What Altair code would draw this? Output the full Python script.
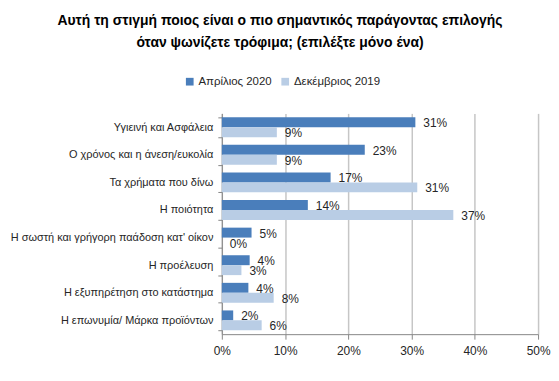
import altair as alt
import pandas as pd

categories = [
    "Υγιεινή και Ασφάλεια",
    "Ο χρόνος και η άνεση/ευκολία",
    "Τα χρήματα που δίνω",
    "Η ποιότητα",
    "Η σωστή και γρήγορη παάδοση κατ' οίκον",
    "Η προέλευση",
    "Η εξυπηρέτηση στο κατάστημα",
    "Η επωνυμία/ Μάρκα προϊόντων",
]
april_2020 = [30.6, 22.6, 17.2, 13.6, 4.7, 4.4, 4.2, 1.8]
dec_2019 = [8.7, 8.7, 30.9, 36.6, 0.0, 3.1, 8.2, 6.3]
series = ["Απρίλιος 2020", "Δεκέμβριος 2019"]
colors = ["#4a7ebb", "#b9cde5"]
x_ticks = [0, 5, 10, 15, 20, 25, 30, 35, 40, 45, 50]

rows = []
for c, a, d in zip(categories, april_2020, dec_2019):
    rows.append({"cat": c, "series": series[0], "val": a / 100, "label": f"{round(a):.0f}%"})
    rows.append({"cat": c, "series": series[1], "val": d / 100, "label": f"{round(d):.0f}%"})
df = pd.DataFrame(rows)

FONT = "Liberation Sans"

y_enc = alt.Y("cat:N", sort=categories, title=None,
              scale=alt.Scale(paddingInner=0.28, paddingOuter=0.14),
              axis=alt.Axis(labelFontSize=11, labelColor="#262626", labelPadding=5,
                            domainColor="#868686", tickColor="#868686", tickSize=4,
                            tickBand="extent", grid=False, labelLimit=400))
yoff = alt.YOffset("series:N", sort=series, scale=alt.Scale(paddingInner=0, paddingOuter=0))
x_enc = alt.X("val:Q", title=None,
              scale=alt.Scale(domain=[0, 0.5], nice=False),
              axis=alt.Axis(values=[v / 100 for v in x_ticks], format=".0%",
                            labelFontSize=12, labelColor="#262626", labelPadding=6,
                            labelFlush=False, labelBound=False,
                            domainColor="#868686", tickColor="#868686", tickSize=5,
                            grid=True, gridColor="#c6c6c6", gridWidth=1.5))

bars = alt.Chart(df).mark_bar().encode(
    y=y_enc, yOffset=yoff, x=x_enc,
    color=alt.Color("series:N", sort=series, scale=alt.Scale(domain=series, range=colors),
                    legend=alt.Legend(title=None, orient="none", direction="horizontal",
                                      legendX=-38, legendY=-38, labelFontSize=11.5,
                                      labelColor="#262626", symbolType="square",
                                      symbolSize=60, symbolStrokeWidth=0, columnPadding=7,
                                      labelOffset=3)),
)
labels = alt.Chart(df).mark_text(align="left", baseline="middle", dx=8, dy=1,
                                 fontSize=12, color="#262626").encode(
    y=alt.Y("cat:N", sort=categories), yOffset=yoff, x="val:Q", text="label:N")

chart = alt.layer(bars, labels).properties(
    width=318, height=222,
    title=alt.TitleParams(["Αυτή τη στιγμή ποιος είναι ο πιο σημαντικός παράγοντας επιλογής",
                           "όταν ψωνίζετε τρόφιμα; (επιλέξτε μόνο ένα)"],
                          anchor="middle", frame="bounds", fontSize=14, fontWeight="bold",
                          lineHeight=22, color="#000000", offset=26),
    padding={"left": 2, "top": 5, "right": 0, "bottom": 4},
).configure(font=FONT).configure_view(stroke=None)

chart.save("out.html", embed_options={"renderer": "svg", "actions": False})
